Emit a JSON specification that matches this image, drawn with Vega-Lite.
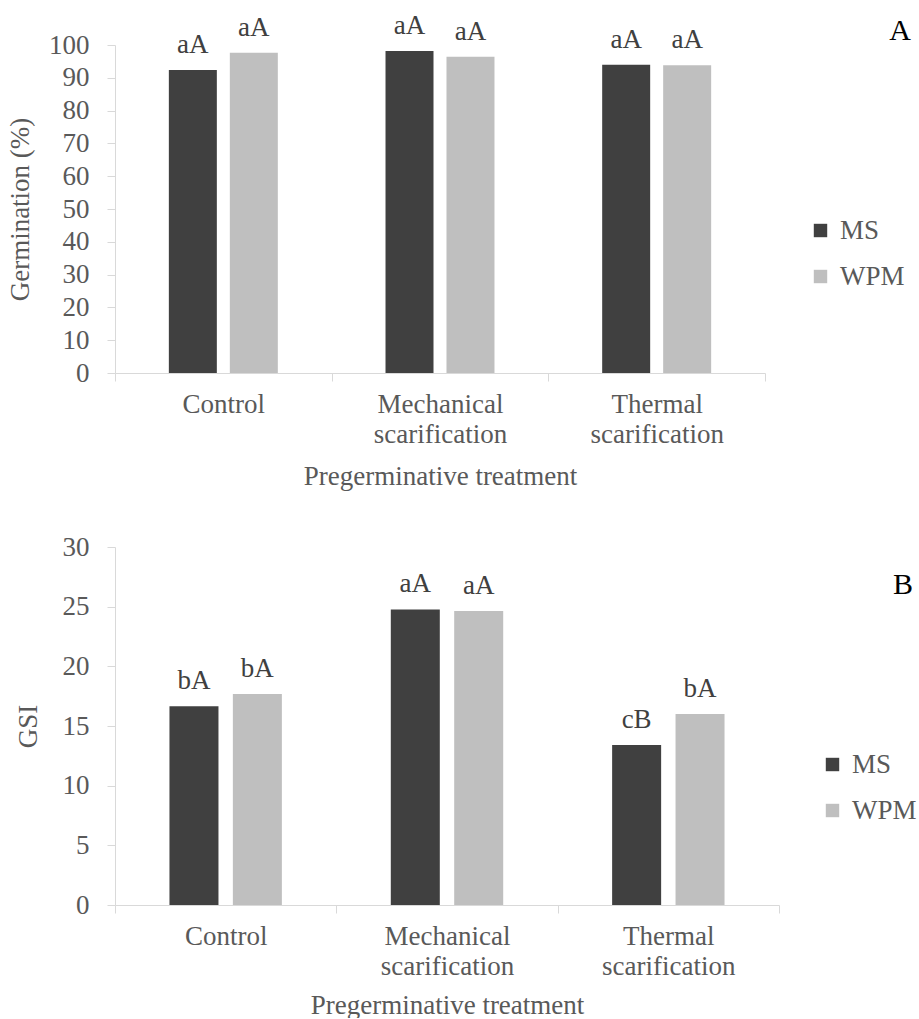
{
  "$schema": "https://vega.github.io/schema/vega-lite/v6.json",
  "padding": {"left": 6, "top": 11, "right": 0, "bottom": 0},
  "background": "#ffffff",
  "config": {
    "font": "Liberation Serif",
    "view": {"stroke": null},
    "text": {"font": "Liberation Serif"},
    "title": {"font": "Liberation Serif"},
    "axis": {
      "labelFont": "Liberation Serif",
      "titleFont": "Liberation Serif",
      "labelFontSize": 27,
      "titleFontSize": 27,
      "labelColor": "#595959",
      "titleColor": "#595959",
      "titleFontWeight": "normal",
      "domainColor": "#d9d9d9",
      "tickColor": "#d9d9d9",
      "tickSize": 8,
      "grid": false
    },
    "legend": {
      "labelFont": "Liberation Serif",
      "labelFontSize": 27,
      "labelColor": "#595959",
      "symbolType": "square",
      "symbolSize": 180,
      "symbolStrokeWidth": 0,
      "labelOffset": 6,
      "rowPadding": 18
    }
  },
  "spacing": 44,
  "resolve": {"scale": {"color": "independent", "x": "independent", "y": "independent", "xOffset": "independent"}, "legend": {"color": "independent"}},
  "vconcat": [
    {
      "width": 650,
      "height": 328,
      "title": {"text": "A", "anchor": "end", "frame": "group", "dx": 146, "dy": 62, "fontSize": 30, "font": "Liberation Serif", "fontWeight": "normal", "color": "#000000", "baseline": "alphabetic"},
      "data": {"values": [
        {"treatment": "Control", "medium": "MS", "value": 92.4, "letter": "aA"},
        {"treatment": "Control", "medium": "WPM", "value": 97.6, "letter": "aA"},
        {"treatment": "Mechanical scarification", "medium": "MS", "value": 98.2, "letter": "aA"},
        {"treatment": "Mechanical scarification", "medium": "WPM", "value": 96.4, "letter": "aA"},
        {"treatment": "Thermal scarification", "medium": "MS", "value": 94.0, "letter": "aA"},
        {"treatment": "Thermal scarification", "medium": "WPM", "value": 93.8, "letter": "aA"}
      ]},
      "encoding": {
        "x": {
          "field": "treatment", "type": "nominal",
          "sort": ["Control", "Mechanical scarification", "Thermal scarification"],
          "scale": {"paddingInner": 0, "paddingOuter": 0},
          "axis": {"title": "Pregerminative treatment", "labelFont": "Liberation Serif", "titleFont": "Liberation Serif", "labelAngle": 0, "tickBand": "extent", "labelExpr": "split(datum.label, ' ')", "labelLineHeight": 30, "labelPadding": 10, "titlePadding": 16, "labelBaseline": "top"}
        },
        "xOffset": {"field": "medium", "type": "nominal", "sort": ["MS", "WPM"], "scale": {"paddingInner": 0.213, "paddingOuter": 0.883}},
        "y": {
          "field": "value", "type": "quantitative",
          "scale": {"domain": [0, 100], "nice": false},
          "axis": {"title": "Germination (%)", "labelFont": "Liberation Serif", "titleFont": "Liberation Serif", "values": [0, 10, 20, 30, 40, 50, 60, 70, 80, 90, 100], "labelPadding": 18, "titlePadding": 14}
        }
      },
      "layer": [
        {
          "mark": {"type": "bar"},
          "encoding": {
            "color": {
              "field": "medium", "type": "nominal",
              "scale": {"domain": ["MS", "WPM"], "range": ["#404040", "#bfbfbf"]},
              "legend": {"title": null, "orient": "none", "legendX": 692, "legendY": 172, "labelFont": "Liberation Serif"}
            }
          }
        },
        {
          "mark": {"type": "text", "baseline": "alphabetic", "dy": -17, "fontSize": 27, "font": "Liberation Serif", "color": "#404040"},
          "encoding": {"text": {"field": "letter"}}
        }
      ]
    },
    {
      "width": 664,
      "height": 358,
      "title": {"text": "B", "anchor": "end", "frame": "group", "dx": 134, "dy": 95, "fontSize": 30, "font": "Liberation Serif", "fontWeight": "normal", "color": "#000000", "baseline": "alphabetic"},
      "data": {"values": [
        {"treatment": "Control", "medium": "MS", "value": 16.66, "letter": "bA"},
        {"treatment": "Control", "medium": "WPM", "value": 17.69, "letter": "bA"},
        {"treatment": "Mechanical scarification", "medium": "MS", "value": 24.77, "letter": "aA"},
        {"treatment": "Mechanical scarification", "medium": "WPM", "value": 24.63, "letter": "aA"},
        {"treatment": "Thermal scarification", "medium": "MS", "value": 13.41, "letter": "cB"},
        {"treatment": "Thermal scarification", "medium": "WPM", "value": 16.01, "letter": "bA"}
      ]},
      "encoding": {
        "x": {
          "field": "treatment", "type": "nominal",
          "sort": ["Control", "Mechanical scarification", "Thermal scarification"],
          "scale": {"paddingInner": 0, "paddingOuter": 0},
          "axis": {"title": "Pregerminative treatment", "labelFont": "Liberation Serif", "titleFont": "Liberation Serif", "labelAngle": 0, "tickBand": "extent", "labelExpr": "split(datum.label, ' ')", "labelLineHeight": 30, "labelPadding": 10, "titlePadding": 13, "labelBaseline": "top"}
        },
        "xOffset": {"field": "medium", "type": "nominal", "sort": ["MS", "WPM"], "scale": {"paddingInner": 0.227, "paddingOuter": 0.859}},
        "y": {
          "field": "value", "type": "quantitative",
          "scale": {"domain": [0, 30], "nice": false},
          "axis": {"title": "GSI", "labelFont": "Liberation Serif", "titleFont": "Liberation Serif", "values": [0, 5, 10, 15, 20, 25, 30], "labelPadding": 18, "titlePadding": 20}
        }
      },
      "layer": [
        {
          "mark": {"type": "bar"},
          "encoding": {
            "color": {
              "field": "medium", "type": "nominal",
              "scale": {"domain": ["MS", "WPM"], "range": ["#404040", "#bfbfbf"]},
              "legend": {"title": null, "orient": "none", "legendX": 704, "legendY": 204, "labelFont": "Liberation Serif"}
            }
          }
        },
        {
          "mark": {"type": "text", "baseline": "alphabetic", "dy": -17, "fontSize": 27, "font": "Liberation Serif", "color": "#404040"},
          "encoding": {"text": {"field": "letter"}}
        }
      ]
    }
  ]
}
